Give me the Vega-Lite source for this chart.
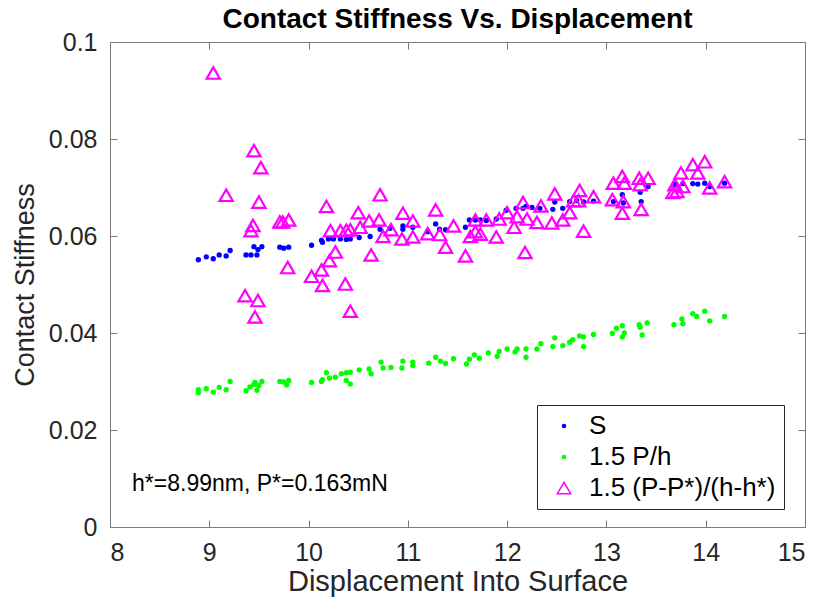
{
  "$schema": "https://vega.github.io/schema/vega-lite/v6.json",
  "autosize": {"type": "none"},
  "width": 695,
  "height": 485,
  "padding": {"left": 110, "top": 42, "right": 16, "bottom": 86},
  "background": "white",
  "title": {"text": "Contact Stiffness Vs. Displacement", "fontSize": 28, "fontWeight": "bold", "font": "Liberation Sans", "color": "#000000", "anchor": "middle", "offset": -4},
  "config": {
    "view": {"stroke": "#7a7a7a", "strokeWidth": 1},
    "axis": {"domain": false, "grid": false, "tickColor": "#7a7a7a", "tickSize": 7, "offset": -7, "labelFont": "Liberation Sans", "labelFontSize": 25, "labelColor": "#262626", "titleFont": "Liberation Sans", "titleFontSize": 28, "titleFontWeight": "normal", "titleColor": "#262626"},
    "legend": {"orient": "none", "legendX": 427, "legendY": 363, "strokeColor": "#262626", "fillColor": "white", "padding": 8, "labelFont": "Liberation Sans", "labelFontSize": 26, "labelColor": "#000000", "labelLimit": 400, "rowPadding": 5, "symbolOffset": 6, "labelOffset": 12}
  },
  "layer": [
    {
      "data": {"values": [
        {"x": 8.89, "y": 0.0551, "s": "S"}, {"x": 8.97, "y": 0.0557, "s": "S"}, {"x": 9.04, "y": 0.0553, "s": "S"}, {"x": 9.10, "y": 0.0561, "s": "S"}, {"x": 9.17, "y": 0.0559, "s": "S"}, {"x": 9.21, "y": 0.0570, "s": "S"}, {"x": 9.37, "y": 0.0561, "s": "S"}, {"x": 9.42, "y": 0.0561, "s": "S"}, {"x": 9.48, "y": 0.0561, "s": "S"}, {"x": 9.45, "y": 0.0578, "s": "S"}, {"x": 9.53, "y": 0.0578, "s": "S"}, {"x": 9.49, "y": 0.0572, "s": "S"}, {"x": 9.71, "y": 0.0577, "s": "S"}, {"x": 9.75, "y": 0.0575, "s": "S"}, {"x": 9.80, "y": 0.0577, "s": "S"}, {"x": 10.03, "y": 0.0581, "s": "S"}, {"x": 10.13, "y": 0.0591, "s": "S"}, {"x": 10.14, "y": 0.0587, "s": "S"}, {"x": 10.20, "y": 0.0594, "s": "S"}, {"x": 10.25, "y": 0.0594, "s": "S"}, {"x": 10.32, "y": 0.0594, "s": "S"}, {"x": 10.38, "y": 0.0593, "s": "S"}, {"x": 10.42, "y": 0.0594, "s": "S"}, {"x": 10.51, "y": 0.0597, "s": "S"}, {"x": 10.62, "y": 0.0599, "s": "S"}, {"x": 10.72, "y": 0.0614, "s": "S"}, {"x": 10.82, "y": 0.0616, "s": "S"}, {"x": 10.95, "y": 0.0621, "s": "S"}, {"x": 10.95, "y": 0.0614, "s": "S"}, {"x": 11.05, "y": 0.0618, "s": "S"}, {"x": 11.20, "y": 0.0609, "s": "S"}, {"x": 11.28, "y": 0.0625, "s": "S"}, {"x": 11.32, "y": 0.0614, "s": "S"}, {"x": 11.38, "y": 0.0613, "s": "S"}, {"x": 11.58, "y": 0.0618, "s": "S"}, {"x": 11.62, "y": 0.0633, "s": "S"}, {"x": 11.68, "y": 0.0633, "s": "S"}, {"x": 11.73, "y": 0.0633, "s": "S"}, {"x": 11.79, "y": 0.0632, "s": "S"}, {"x": 11.89, "y": 0.0635, "s": "S"}, {"x": 11.99, "y": 0.0653, "s": "S"}, {"x": 12.09, "y": 0.0657, "s": "S"}, {"x": 12.16, "y": 0.0657, "s": "S"}, {"x": 12.19, "y": 0.0661, "s": "S"}, {"x": 12.25, "y": 0.0659, "s": "S"}, {"x": 12.33, "y": 0.0657, "s": "S"}, {"x": 12.46, "y": 0.0655, "s": "S"}, {"x": 12.48, "y": 0.0670, "s": "S"}, {"x": 12.56, "y": 0.0657, "s": "S"}, {"x": 12.63, "y": 0.0671, "s": "S"}, {"x": 12.70, "y": 0.0673, "s": "S"}, {"x": 12.77, "y": 0.0670, "s": "S"}, {"x": 12.87, "y": 0.0672, "s": "S"}, {"x": 13.07, "y": 0.0671, "s": "S"}, {"x": 13.16, "y": 0.0685, "s": "S"}, {"x": 13.17, "y": 0.0668, "s": "S"}, {"x": 13.34, "y": 0.0690, "s": "S"}, {"x": 13.35, "y": 0.0671, "s": "S"}, {"x": 13.42, "y": 0.0702, "s": "S"}, {"x": 13.69, "y": 0.0706, "s": "S"}, {"x": 13.77, "y": 0.0708, "s": "S"}, {"x": 13.87, "y": 0.0708, "s": "S"}, {"x": 13.92, "y": 0.0707, "s": "S"}, {"x": 13.99, "y": 0.0709, "s": "S"}, {"x": 14.04, "y": 0.0702, "s": "S"}, {"x": 14.19, "y": 0.0709, "s": "S"},

        {"x": 8.89, "y": 0.0277, "s": "1.5 P/h"}, {"x": 8.89, "y": 0.0283, "s": "1.5 P/h"}, {"x": 8.97, "y": 0.0285, "s": "1.5 P/h"}, {"x": 9.04, "y": 0.0278, "s": "1.5 P/h"}, {"x": 9.10, "y": 0.0288, "s": "1.5 P/h"}, {"x": 9.17, "y": 0.0283, "s": "1.5 P/h"}, {"x": 9.21, "y": 0.0300, "s": "1.5 P/h"}, {"x": 9.37, "y": 0.0281, "s": "1.5 P/h"}, {"x": 9.41, "y": 0.0289, "s": "1.5 P/h"}, {"x": 9.45, "y": 0.0294, "s": "1.5 P/h"}, {"x": 9.48, "y": 0.0282, "s": "1.5 P/h"}, {"x": 9.50, "y": 0.0292, "s": "1.5 P/h"}, {"x": 9.53, "y": 0.0300, "s": "1.5 P/h"}, {"x": 9.46, "y": 0.0298, "s": "1.5 P/h"}, {"x": 9.71, "y": 0.0300, "s": "1.5 P/h"}, {"x": 9.75, "y": 0.0299, "s": "1.5 P/h"}, {"x": 9.80, "y": 0.0302, "s": "1.5 P/h"}, {"x": 9.78, "y": 0.0293, "s": "1.5 P/h"}, {"x": 10.03, "y": 0.0298, "s": "1.5 P/h"}, {"x": 10.13, "y": 0.0300, "s": "1.5 P/h"}, {"x": 10.14, "y": 0.0304, "s": "1.5 P/h"}, {"x": 10.18, "y": 0.0318, "s": "1.5 P/h"}, {"x": 10.21, "y": 0.0307, "s": "1.5 P/h"}, {"x": 10.27, "y": 0.0309, "s": "1.5 P/h"}, {"x": 10.33, "y": 0.0316, "s": "1.5 P/h"}, {"x": 10.38, "y": 0.0318, "s": "1.5 P/h"}, {"x": 10.42, "y": 0.0319, "s": "1.5 P/h"}, {"x": 10.38, "y": 0.0302, "s": "1.5 P/h"}, {"x": 10.42, "y": 0.0295, "s": "1.5 P/h"}, {"x": 10.51, "y": 0.0324, "s": "1.5 P/h"}, {"x": 10.61, "y": 0.0326, "s": "1.5 P/h"}, {"x": 10.63, "y": 0.0316, "s": "1.5 P/h"}, {"x": 10.73, "y": 0.0340, "s": "1.5 P/h"}, {"x": 10.75, "y": 0.0328, "s": "1.5 P/h"}, {"x": 10.83, "y": 0.0329, "s": "1.5 P/h"}, {"x": 10.95, "y": 0.0342, "s": "1.5 P/h"}, {"x": 10.94, "y": 0.0328, "s": "1.5 P/h"}, {"x": 11.05, "y": 0.0340, "s": "1.5 P/h"}, {"x": 11.05, "y": 0.0333, "s": "1.5 P/h"}, {"x": 11.21, "y": 0.0338, "s": "1.5 P/h"}, {"x": 11.28, "y": 0.0350, "s": "1.5 P/h"}, {"x": 11.33, "y": 0.0342, "s": "1.5 P/h"}, {"x": 11.38, "y": 0.0337, "s": "1.5 P/h"}, {"x": 11.46, "y": 0.0347, "s": "1.5 P/h"}, {"x": 11.59, "y": 0.0336, "s": "1.5 P/h"}, {"x": 11.62, "y": 0.0346, "s": "1.5 P/h"}, {"x": 11.67, "y": 0.0355, "s": "1.5 P/h"}, {"x": 11.72, "y": 0.0348, "s": "1.5 P/h"}, {"x": 11.81, "y": 0.0359, "s": "1.5 P/h"}, {"x": 11.90, "y": 0.0352, "s": "1.5 P/h"}, {"x": 11.92, "y": 0.0362, "s": "1.5 P/h"}, {"x": 12.00, "y": 0.0367, "s": "1.5 P/h"}, {"x": 12.08, "y": 0.0361, "s": "1.5 P/h"}, {"x": 12.10, "y": 0.0367, "s": "1.5 P/h"}, {"x": 12.19, "y": 0.0367, "s": "1.5 P/h"}, {"x": 12.19, "y": 0.0350, "s": "1.5 P/h"}, {"x": 12.30, "y": 0.0367, "s": "1.5 P/h"}, {"x": 12.34, "y": 0.0378, "s": "1.5 P/h"}, {"x": 12.46, "y": 0.0372, "s": "1.5 P/h"}, {"x": 12.48, "y": 0.0390, "s": "1.5 P/h"}, {"x": 12.56, "y": 0.0374, "s": "1.5 P/h"}, {"x": 12.63, "y": 0.0381, "s": "1.5 P/h"}, {"x": 12.66, "y": 0.0386, "s": "1.5 P/h"}, {"x": 12.73, "y": 0.0394, "s": "1.5 P/h"}, {"x": 12.77, "y": 0.0372, "s": "1.5 P/h"}, {"x": 12.77, "y": 0.0392, "s": "1.5 P/h"}, {"x": 12.87, "y": 0.0397, "s": "1.5 P/h"}, {"x": 13.06, "y": 0.0399, "s": "1.5 P/h"}, {"x": 13.10, "y": 0.0410, "s": "1.5 P/h"}, {"x": 13.16, "y": 0.0415, "s": "1.5 P/h"}, {"x": 13.16, "y": 0.0392, "s": "1.5 P/h"}, {"x": 13.18, "y": 0.0400, "s": "1.5 P/h"}, {"x": 13.33, "y": 0.0417, "s": "1.5 P/h"}, {"x": 13.34, "y": 0.0412, "s": "1.5 P/h"}, {"x": 13.36, "y": 0.0396, "s": "1.5 P/h"}, {"x": 13.41, "y": 0.0421, "s": "1.5 P/h"}, {"x": 13.68, "y": 0.0417, "s": "1.5 P/h"}, {"x": 13.76, "y": 0.0429, "s": "1.5 P/h"}, {"x": 13.77, "y": 0.0419, "s": "1.5 P/h"}, {"x": 13.87, "y": 0.0440, "s": "1.5 P/h"}, {"x": 13.91, "y": 0.0434, "s": "1.5 P/h"}, {"x": 13.99, "y": 0.0445, "s": "1.5 P/h"}, {"x": 14.04, "y": 0.0425, "s": "1.5 P/h"}, {"x": 14.19, "y": 0.0434, "s": "1.5 P/h"},

        {"x": 9.04, "y": 0.0936, "s": "1.5 (P-P*)/(h-h*)"}, {"x": 9.45, "y": 0.0776, "s": "1.5 (P-P*)/(h-h*)"}, {"x": 9.52, "y": 0.0741, "s": "1.5 (P-P*)/(h-h*)"}, {"x": 9.17, "y": 0.0684, "s": "1.5 (P-P*)/(h-h*)"}, {"x": 9.50, "y": 0.0670, "s": "1.5 (P-P*)/(h-h*)"}, {"x": 9.44, "y": 0.0622, "s": "1.5 (P-P*)/(h-h*)"}, {"x": 9.42, "y": 0.0611, "s": "1.5 (P-P*)/(h-h*)"}, {"x": 9.71, "y": 0.0629, "s": "1.5 (P-P*)/(h-h*)"}, {"x": 9.74, "y": 0.0629, "s": "1.5 (P-P*)/(h-h*)"}, {"x": 9.80, "y": 0.0633, "s": "1.5 (P-P*)/(h-h*)"}, {"x": 10.18, "y": 0.0661, "s": "1.5 (P-P*)/(h-h*)"}, {"x": 10.50, "y": 0.0648, "s": "1.5 (P-P*)/(h-h*)"}, {"x": 10.22, "y": 0.0611, "s": "1.5 (P-P*)/(h-h*)"}, {"x": 10.32, "y": 0.0611, "s": "1.5 (P-P*)/(h-h*)"}, {"x": 10.38, "y": 0.0612, "s": "1.5 (P-P*)/(h-h*)"}, {"x": 10.42, "y": 0.0613, "s": "1.5 (P-P*)/(h-h*)"}, {"x": 10.27, "y": 0.0567, "s": "1.5 (P-P*)/(h-h*)"}, {"x": 10.21, "y": 0.0549, "s": "1.5 (P-P*)/(h-h*)"}, {"x": 10.13, "y": 0.0530, "s": "1.5 (P-P*)/(h-h*)"}, {"x": 10.03, "y": 0.0517, "s": "1.5 (P-P*)/(h-h*)"}, {"x": 10.14, "y": 0.0498, "s": "1.5 (P-P*)/(h-h*)"}, {"x": 10.37, "y": 0.0501, "s": "1.5 (P-P*)/(h-h*)"}, {"x": 10.42, "y": 0.0445, "s": "1.5 (P-P*)/(h-h*)"}, {"x": 9.79, "y": 0.0535, "s": "1.5 (P-P*)/(h-h*)"}, {"x": 9.36, "y": 0.0477, "s": "1.5 (P-P*)/(h-h*)"}, {"x": 9.49, "y": 0.0467, "s": "1.5 (P-P*)/(h-h*)"}, {"x": 9.46, "y": 0.0433, "s": "1.5 (P-P*)/(h-h*)"}, {"x": 10.72, "y": 0.0685, "s": "1.5 (P-P*)/(h-h*)"}, {"x": 10.61, "y": 0.0631, "s": "1.5 (P-P*)/(h-h*)"}, {"x": 10.71, "y": 0.0633, "s": "1.5 (P-P*)/(h-h*)"}, {"x": 10.95, "y": 0.0647, "s": "1.5 (P-P*)/(h-h*)"}, {"x": 11.05, "y": 0.0631, "s": "1.5 (P-P*)/(h-h*)"}, {"x": 11.28, "y": 0.0654, "s": "1.5 (P-P*)/(h-h*)"}, {"x": 10.52, "y": 0.0618, "s": "1.5 (P-P*)/(h-h*)"}, {"x": 10.83, "y": 0.0613, "s": "1.5 (P-P*)/(h-h*)"}, {"x": 10.75, "y": 0.0599, "s": "1.5 (P-P*)/(h-h*)"}, {"x": 10.94, "y": 0.0594, "s": "1.5 (P-P*)/(h-h*)"}, {"x": 11.05, "y": 0.0598, "s": "1.5 (P-P*)/(h-h*)"}, {"x": 11.20, "y": 0.0605, "s": "1.5 (P-P*)/(h-h*)"}, {"x": 11.32, "y": 0.0603, "s": "1.5 (P-P*)/(h-h*)"}, {"x": 11.46, "y": 0.0621, "s": "1.5 (P-P*)/(h-h*)"}, {"x": 11.38, "y": 0.0577, "s": "1.5 (P-P*)/(h-h*)"}, {"x": 10.63, "y": 0.0561, "s": "1.5 (P-P*)/(h-h*)"}, {"x": 11.58, "y": 0.0559, "s": "1.5 (P-P*)/(h-h*)"}, {"x": 11.68, "y": 0.0633, "s": "1.5 (P-P*)/(h-h*)"}, {"x": 11.79, "y": 0.0633, "s": "1.5 (P-P*)/(h-h*)"}, {"x": 11.92, "y": 0.0635, "s": "1.5 (P-P*)/(h-h*)"}, {"x": 12.00, "y": 0.0648, "s": "1.5 (P-P*)/(h-h*)"}, {"x": 12.10, "y": 0.0640, "s": "1.5 (P-P*)/(h-h*)"}, {"x": 12.16, "y": 0.0669, "s": "1.5 (P-P*)/(h-h*)"}, {"x": 11.63, "y": 0.0599, "s": "1.5 (P-P*)/(h-h*)"}, {"x": 11.68, "y": 0.0609, "s": "1.5 (P-P*)/(h-h*)"}, {"x": 11.73, "y": 0.0604, "s": "1.5 (P-P*)/(h-h*)"}, {"x": 11.89, "y": 0.0598, "s": "1.5 (P-P*)/(h-h*)"}, {"x": 12.07, "y": 0.0618, "s": "1.5 (P-P*)/(h-h*)"}, {"x": 12.18, "y": 0.0566, "s": "1.5 (P-P*)/(h-h*)"}, {"x": 12.20, "y": 0.0635, "s": "1.5 (P-P*)/(h-h*)"}, {"x": 12.30, "y": 0.0628, "s": "1.5 (P-P*)/(h-h*)"}, {"x": 12.34, "y": 0.0662, "s": "1.5 (P-P*)/(h-h*)"}, {"x": 12.45, "y": 0.0627, "s": "1.5 (P-P*)/(h-h*)"}, {"x": 12.48, "y": 0.0687, "s": "1.5 (P-P*)/(h-h*)"}, {"x": 12.56, "y": 0.0633, "s": "1.5 (P-P*)/(h-h*)"}, {"x": 12.63, "y": 0.0648, "s": "1.5 (P-P*)/(h-h*)"}, {"x": 12.73, "y": 0.0694, "s": "1.5 (P-P*)/(h-h*)"}, {"x": 12.77, "y": 0.0610, "s": "1.5 (P-P*)/(h-h*)"}, {"x": 12.67, "y": 0.0673, "s": "1.5 (P-P*)/(h-h*)"}, {"x": 12.72, "y": 0.0673, "s": "1.5 (P-P*)/(h-h*)"}, {"x": 12.87, "y": 0.0681, "s": "1.5 (P-P*)/(h-h*)"}, {"x": 13.07, "y": 0.0709, "s": "1.5 (P-P*)/(h-h*)"}, {"x": 13.16, "y": 0.0723, "s": "1.5 (P-P*)/(h-h*)"}, {"x": 13.18, "y": 0.0709, "s": "1.5 (P-P*)/(h-h*)"}, {"x": 13.06, "y": 0.0675, "s": "1.5 (P-P*)/(h-h*)"}, {"x": 13.17, "y": 0.0671, "s": "1.5 (P-P*)/(h-h*)"}, {"x": 13.16, "y": 0.0647, "s": "1.5 (P-P*)/(h-h*)"}, {"x": 13.33, "y": 0.0719, "s": "1.5 (P-P*)/(h-h*)"}, {"x": 13.42, "y": 0.0719, "s": "1.5 (P-P*)/(h-h*)"}, {"x": 13.34, "y": 0.0706, "s": "1.5 (P-P*)/(h-h*)"}, {"x": 13.35, "y": 0.0655, "s": "1.5 (P-P*)/(h-h*)"}, {"x": 13.69, "y": 0.0706, "s": "1.5 (P-P*)/(h-h*)"}, {"x": 13.71, "y": 0.0692, "s": "1.5 (P-P*)/(h-h*)"}, {"x": 13.77, "y": 0.0702, "s": "1.5 (P-P*)/(h-h*)"}, {"x": 13.75, "y": 0.0730, "s": "1.5 (P-P*)/(h-h*)"}, {"x": 13.87, "y": 0.0747, "s": "1.5 (P-P*)/(h-h*)"}, {"x": 13.99, "y": 0.0753, "s": "1.5 (P-P*)/(h-h*)"}, {"x": 13.92, "y": 0.0730, "s": "1.5 (P-P*)/(h-h*)"}, {"x": 14.04, "y": 0.0699, "s": "1.5 (P-P*)/(h-h*)"}, {"x": 14.19, "y": 0.0712, "s": "1.5 (P-P*)/(h-h*)"}, {"x": 13.67, "y": 0.0690, "s": "1.5 (P-P*)/(h-h*)"}
      ]},
      "mark": {"type": "point", "strokeWidth": 2.2, "opacity": 1},
      "encoding": {
        "x": {"field": "x", "type": "quantitative", "scale": {"domain": [8, 15], "nice": false, "zero": false}, "axis": {"values": [8, 9, 10, 11, 12, 13, 14, 15], "title": "Displacement Into Surface", "labelPadding": 13, "titlePadding": 2, "titleFontSize": 29}},
        "y": {"field": "y", "type": "quantitative", "scale": {"domain": [0, 0.1], "nice": false}, "axis": {"values": [0, 0.02, 0.04, 0.06, 0.08, 0.1], "format": ".2~f", "title": "Contact Stiffness", "labelPadding": 13, "titlePadding": 9, "titleFontSize": 27}},
        "stroke": {"field": "s", "type": "nominal", "title": null, "scale": {"domain": ["S", "1.5 P/h", "1.5 (P-P*)/(h-h*)"], "range": ["#0000ff", "#00ff00", "#ff00ff"]}},
        "fill": {"field": "s", "type": "nominal", "title": null, "scale": {"domain": ["S", "1.5 P/h", "1.5 (P-P*)/(h-h*)"], "range": ["#0000ff", "#00ff00", "transparent"]}},
        "shape": {"field": "s", "type": "nominal", "title": null, "scale": {"domain": ["S", "1.5 P/h", "1.5 (P-P*)/(h-h*)"], "range": ["circle", "circle", "triangle-up"]}},
        "size": {"field": "s", "type": "nominal", "title": null, "scale": {"type": "ordinal", "domain": ["S", "1.5 P/h", "1.5 (P-P*)/(h-h*)"], "range": [10, 10, 175]}}
      }
    },
    {
      "data": {"values": [{"x": 9.51, "y": 0.0088, "t": "h*=8.99nm, P*=0.163mN"}]},
      "mark": {"type": "text", "font": "Liberation Sans", "fontSize": 23, "color": "#000000", "align": "center", "baseline": "middle"},
      "encoding": {
        "x": {"field": "x", "type": "quantitative", "axis": null},
        "y": {"field": "y", "type": "quantitative", "axis": null},
        "text": {"field": "t"}
      }
    },
    {
      "data": {"values": [{"x": 8, "y": 0}]},
      "mark": {"type": "point", "opacity": 0},
      "encoding": {
        "x": {"field": "x", "type": "quantitative", "axis": {"orient": "top", "values": [8, 9, 10, 11, 12, 13, 14, 15], "labels": false, "title": null}},
        "y": {"field": "y", "type": "quantitative", "axis": {"orient": "right", "values": [0, 0.02, 0.04, 0.06, 0.08, 0.1], "labels": false, "title": null}}
      }
    }
  ],
  "resolve": {"axis": {"x": "independent", "y": "independent"}}
}
